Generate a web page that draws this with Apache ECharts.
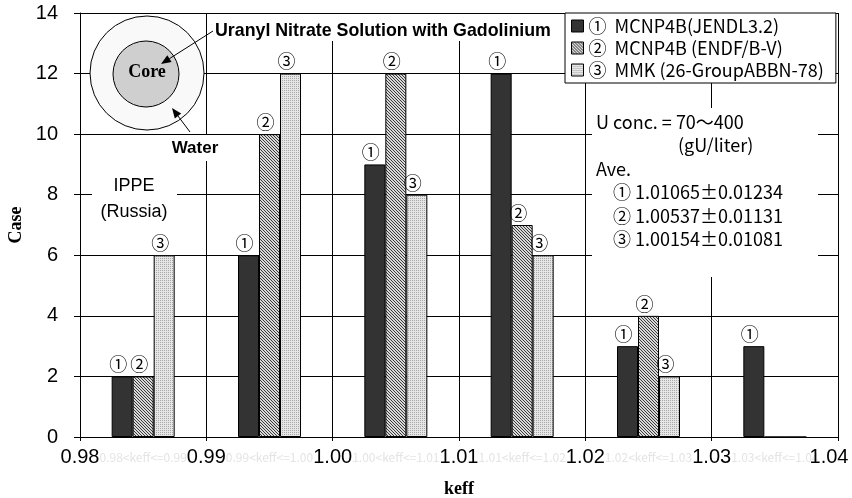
<!DOCTYPE html>
<html><head><meta charset="utf-8">
<script src="https://cdn.jsdelivr.net/npm/echarts@6/dist/echarts.min.js"></script>
<style>html,body{margin:0;padding:0;background:#fff}#c{width:852px;height:498px}</style>
</head><body><div id="c"></div>
<script>
// ---- data ----
const binLabels = ['0.98<keff<=0.99','0.99<keff<=1.00','1.00<keff<=1.01','1.01<keff<=1.02','1.02<keff<=1.03','1.03<keff<=1.04'];
const seriesNames = ['①  MCNP4B(JENDL3.2)','②  MCNP4B (ENDF/B-V)','③  MMK (26-GroupABBN-78)'];
const barMarks = ['①','②','③'];
const jendl = [2, 6, 9, 12, 3, 3];
const endf  = [2, 10, 12, 7, 4, 0];
const mmk   = [6, 12, 8, 6, 2, 0];
const xMin = 0.98, xMax = 1.04, xStep = 0.01;
const yMin = 0, yMax = 14, yStep = 2;
const noteLines = ['U conc. = 70～400', '(gU/liter)', 'Ave.', '① 1.01065±0.01234', '② 1.00537±0.01131', '③ 1.00154±0.01081'];

// ---- patterns ----
function makePattern(size, dark, light, isDark) {
  const c = document.createElement('canvas');
  c.width = size; c.height = size;
  const ctx = c.getContext('2d');
  for (let i = 0; i < size; i++) for (let j = 0; j < size; j++) {
    ctx.fillStyle = isDark(i, j) ? dark : light;
    ctx.fillRect(i, j, 1, 1);
  }
  return { image: c, repeat: 'repeat' };
}
const hatch = makePattern(3, '#3a3a3a', '#d8d8d8', (i, j) => i === j);
const dots = makePattern(2, '#a8a8a8', '#e6e6e6', (i, j) => i === 0 && j === 0);
const fills = ['#333333', hatch, dots];
const seriesData = [jendl, endf, mmk];

const CJK = '"Noto Sans CJK JP", "Noto Sans", sans-serif';

const series = seriesData.map((d, k) => ({
  name: seriesNames[k],
  type: 'bar',
  xAxisIndex: 0,
  barWidth: 21,
  barGap: '0%',
  data: d,
  itemStyle: { color: fills[k], borderColor: '#000', borderWidth: 1 },
  label: {
    show: true, position: 'top', distance: 3, offset: [-4, 0],
    formatter: p => p.value > 0 ? barMarks[k] : '',
    fontFamily: CJK, fontSize: 18, color: '#000'
  }
}));

function arrow(x1, y1, x2, y2) {
  const a = Math.atan2(y2 - y1, x2 - x1), L = 10, W = 4;
  const bx = x2 - L * Math.cos(a), by = y2 - L * Math.sin(a);
  return [
    { type: 'line', z: 110, shape: { x1, y1, x2: bx, y2: by }, style: { stroke: '#000', lineWidth: 1 } },
    { type: 'polygon', z: 110, shape: { points: [[x2, y2], [bx + W * Math.sin(a), by - W * Math.cos(a)], [bx - W * Math.sin(a), by + W * Math.cos(a)]] }, style: { fill: '#000' } }
  ];
}

const graphics = [
  // white boxes
  { type: 'rect', z: 100, shape: { x: 209, y: 14, width: 345, height: 27 }, style: { fill: '#fff' } },
  { type: 'rect', z: 100, shape: { x: 160, y: 135, width: 66, height: 26 }, style: { fill: '#fff' } },
  { type: 'rect', z: 100, shape: { x: 92, y: 168, width: 85, height: 58 }, style: { fill: '#fff' } },
  { type: 'rect', z: 100, shape: { x: 592, y: 108, width: 226, height: 169 }, style: { fill: '#fff' } },
  // circles
  { type: 'circle', z: 101, shape: { cx: 147, cy: 73, r: 57 }, style: { fill: '#f9f9f9', stroke: '#000', lineWidth: 1 } },
  { type: 'circle', z: 102, shape: { cx: 146, cy: 74, r: 33 }, style: { fill: '#cfcfcf', stroke: '#000', lineWidth: 1 } },
  { type: 'text', z: 103, style: { text: 'Core', x: 147, y: 72, font: 'bold 18px "Liberation Serif", serif', fill: '#000', textAlign: 'center', textVerticalAlign: 'middle' } },
  ...arrow(213, 31, 161, 64),
  ...arrow(190, 132, 172, 108),
  { type: 'text', z: 103, style: { text: 'Uranyl Nitrate Solution with Gadolinium', x: 215, y: 31, font: 'bold 17.8px "Liberation Sans", sans-serif', fill: '#000', textAlign: 'left', textVerticalAlign: 'middle' } },
  { type: 'text', z: 103, style: { text: 'Water', x: 195, y: 148, font: 'bold 17px "Liberation Sans", sans-serif', fill: '#000', textAlign: 'center', textVerticalAlign: 'middle' } },
  { type: 'text', z: 103, style: { text: 'IPPE', x: 134, y: 186, font: '18px "Liberation Sans", sans-serif', fill: '#000', textAlign: 'center', textVerticalAlign: 'middle' } },
  { type: 'text', z: 103, style: { text: '(Russia)', x: 134, y: 212, font: '18px "Liberation Sans", sans-serif', fill: '#000', textAlign: 'center', textVerticalAlign: 'middle' } },
  // note box text
  ...noteLines.map((t, i) => ({
    type: 'text', z: 103,
    style: {
      text: t, x: i === 1 ? 678 : (i >= 3 ? 613 : 596), y: 122 + i * 23.5,
      font: '18px ' + CJK, fill: '#000', textAlign: 'left', textVerticalAlign: 'middle'
    }
  }))
];

const chart = echarts.init(document.getElementById('c'), null, { renderer: 'canvas' });
chart.setOption({
  animation: false,
  backgroundColor: '#fff',
  grid: { left: 80, right: 14, top: 13, bottom: 61, containLabel: false, outerBoundsMode: 'none' },
  legend: {
    orient: 'vertical', left: 565, top: 13,
    icon: 'rect',
    itemWidth: 12, itemHeight: 12, itemGap: 2,
    padding: [3, 12, 3, 6],
    backgroundColor: '#fff', borderColor: '#000', borderWidth: 1,
    textStyle: { fontFamily: CJK, fontSize: 18, color: '#000', lineHeight: 20 },
    itemStyle: { borderColor: '#000', borderWidth: 1 },
    data: seriesNames, z: 120
  },
  xAxis: [
    {
      type: 'category', data: binLabels, position: 'bottom',
      axisLine: { show: true, lineStyle: { color: '#000', width: 1 } },
      axisTick: { show: false },
      axisLabel: { color: '#e4e4e4', fontSize: 12, fontFamily: CJK, margin: 14, interval: 0 },
      splitLine: { show: false },
      name: 'keff', nameLocation: 'middle', nameGap: 43,
      nameTextStyle: { fontFamily: '"Liberation Serif", serif', fontWeight: 'bold', fontSize: 18, color: '#000' }
    },
    {
      type: 'value', min: xMin, max: xMax, interval: xStep, position: 'bottom',
      axisLine: { show: false },
      axisTick: { show: true, length: 4, lineStyle: { color: '#000' } },
      axisLabel: {
        color: '#000', fontSize: 20, fontFamily: '"Liberation Sans", sans-serif', margin: 10,
        formatter: v => Math.abs(v - xMax) < 1e-9 ? '{m|' + v.toFixed(2) + '}' : v.toFixed(2),
        rich: { m: { fontSize: 20, fontFamily: '"Liberation Sans", sans-serif', color: '#000', padding: [0, 18, 0, 0] } }
      },
      splitLine: { show: true, lineStyle: { color: '#000', width: 1 } }
    }
  ],
  yAxis: {
    type: 'value', min: yMin, max: yMax, interval: yStep,
    axisLine: { show: true, lineStyle: { color: '#000', width: 1 } },
    axisTick: { show: true, length: 6, lineStyle: { color: '#000' } },
    axisLabel: { color: '#000', fontSize: 20, fontFamily: '"Liberation Sans", sans-serif', margin: 22 },
    splitLine: { show: true, lineStyle: { color: '#000', width: 1 } },
    name: 'Case', nameLocation: 'middle', nameGap: 45, nameRotate: 90,
    nameTextStyle: { fontFamily: '"Liberation Serif", serif', fontWeight: 'bold', fontSize: 18, color: '#000' }
  },
  series: series,
  graphic: graphics
});
</script>
</body></html>
